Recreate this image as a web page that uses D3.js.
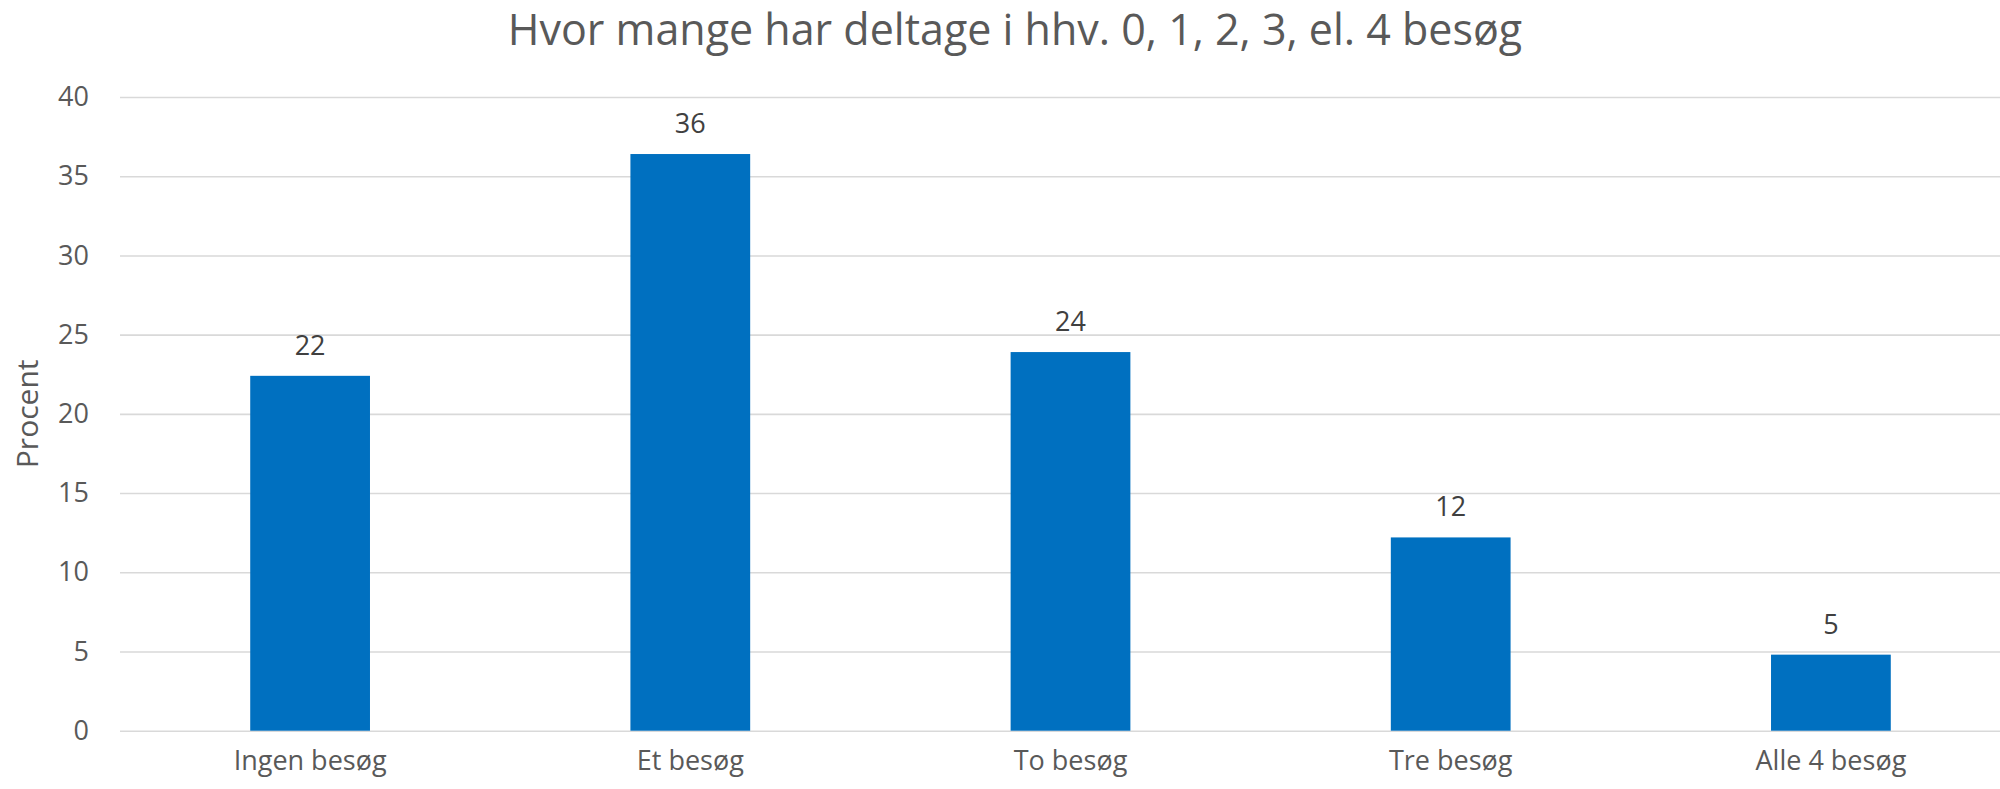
<!DOCTYPE html>
<html>
<head>
<meta charset="utf-8">
<script src="https://cdn.jsdelivr.net/npm/d3@7"></script>
<style>
  body { margin: 0; background: #fff; }
  text { font-family: "Open Sans", sans-serif; }
</style>
</head>
<body>
<div id="root"></div>
<script>
// Data
const categories = ['Ingen besøg', 'Et besøg', 'To besøg', 'Tre besøg', 'Alle 4 besøg'];
const percentValues = [22.4, 36.4, 23.9, 12.2, 4.8];
const yTicks = [0, 5, 10, 15, 20, 25, 30, 35, 40];
const chartTitle = 'Hvor mange har deltage i hhv. 0, 1, 2, 3, el. 4 besøg';
const yAxisTitle = 'Procent';

const width = 2000, height = 789;

// plot area (runs a bit past the right edge, like the cropped original)
const plot = { left: 120, right: 2021, top: 97, bottom: 730.7 };

const svg = d3.select('#root').append('svg')
  .attr('width', width)
  .attr('height', height)
  .attr('viewBox', [0, 0, width, height]);

const x = d3.scaleBand()
  .domain(categories)
  .range([plot.left, plot.right])
  .paddingInner(0.685)
  .paddingOuter(0.3425);

const y = d3.scaleLinear()
  .domain([0, 40])
  .range([plot.bottom, plot.top]);

/**
 * Horizontal gridlines plus tick labels on the left.
 */
function drawYAxis() {
  const axis = d3.axisLeft(y)
    .tickValues(yTicks)
    .tickSize(-(plot.right - plot.left))
    .tickPadding(31);

  const g = svg.append('g')
    .attr('transform', `translate(${plot.left},0)`)
    .call(axis);

  g.select('.domain').remove();
  g.selectAll('.tick line')
    .attr('stroke', '#d9d9d9')
    .attr('stroke-width', 1.6);
  g.selectAll('.tick text')
    .attr('fill', '#595959')
    .attr('font-size', 27)
    .attr('font-family', '"Open Sans", sans-serif');
}

/**
 * Category labels under the bars.
 */
function drawXAxis() {
  const axis = d3.axisBottom(x).tickSize(0).tickPadding(20);

  const g = svg.append('g')
    .attr('transform', `translate(0,${plot.bottom})`)
    .call(axis);

  g.select('.domain').remove();
  g.selectAll('.tick text')
    .attr('fill', '#595959')
    .attr('font-size', 27)
    .attr('font-family', '"Open Sans", sans-serif')
    .attr('dy', '0.71em');
}

/**
 * Blue bars with their value labels on top.
 */
function drawBars() {
  svg.append('g')
    .selectAll('rect')
    .data(percentValues)
    .join('rect')
    .attr('x', (d, i) => x(categories[i]))
    .attr('y', d => y(d))
    .attr('width', x.bandwidth())
    .attr('height', d => y(0) - y(d))
    .attr('fill', '#0070c0');

  svg.append('g')
    .selectAll('text')
    .data(percentValues)
    .join('text')
    .attr('x', (d, i) => x(categories[i]) + x.bandwidth() / 2)
    .attr('y', d => y(d) - 21)
    .attr('text-anchor', 'middle')
    .attr('fill', '#404040')
    .attr('font-size', 27)
    .text(d => d3.format('.0f')(d));
}

function drawTitles() {
  svg.append('text')
    .attr('x', 1015)
    .attr('y', 45)
    .attr('text-anchor', 'middle')
    .attr('fill', '#595959')
    .attr('font-size', 43)
    .text(chartTitle);

  svg.append('text')
    .attr('transform', `translate(38,${(plot.top + plot.bottom) / 2}) rotate(-90)`)
    .attr('text-anchor', 'middle')
    .attr('fill', '#595959')
    .attr('font-size', 30)
    .text(yAxisTitle);
}

drawYAxis();
drawXAxis();
drawBars();
drawTitles();
</script>
</body>
</html>
